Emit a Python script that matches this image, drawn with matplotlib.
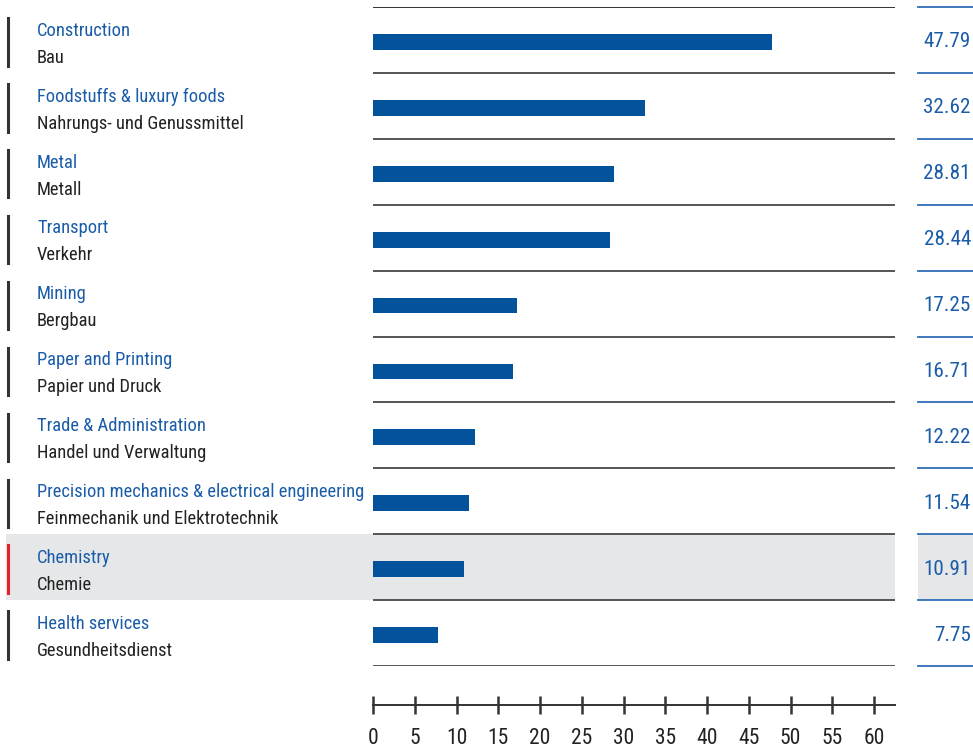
import matplotlib
matplotlib.use("Agg")
import matplotlib.pyplot as plt
from matplotlib import font_manager
from matplotlib.patches import Rectangle
from matplotlib.lines import Line2D
from matplotlib.transforms import blended_transform_factory

# Data
labels_en = [
    "Construction", "Foodstuffs & luxury foods", "Metal", "Transport", "Mining",
    "Paper and Printing", "Trade & Administration",
    "Precision mechanics & electrical engineering", "Chemistry", "Health services",
]
labels_de = [
    "Bau", "Nahrungs- und Genussmittel", "Metall", "Verkehr", "Bergbau",
    "Papier und Druck", "Handel und Verwaltung",
    "Feinmechanik und Elektrotechnik", "Chemie", "Gesundheitsdienst",
]
values = [47.79, 32.62, 28.81, 28.44, 17.25, 16.71, 12.22, 11.54, 10.91, 7.75]
highlight = "Chemistry"
x_ticks = list(range(0, 61, 5))

# Pick a narrow sans face if one is installed
installed = {f.name for f in font_manager.fontManager.ttflist}
family = "DejaVu Sans"
for cand in ["Roboto Condensed", "Liberation Sans Narrow", "Open Sans Condensed",
             "DejaVu Sans Condensed", "Roboto"]:
    if cand in installed:
        family = cand
        break
plt.rcParams["font.family"] = [family, "DejaVu Sans"]

BAR = "#02539b"
BLUE = "#1a5ca8"
DARK = "#222222"
GRID = "#555555"
HL = "#e6e7e8"

W, H = 973, 748
fig = plt.figure(figsize=(W / 100, H / 100), dpi=100)

# bar area in pixels
x0, x1 = 373, 895
y_top, y_bot = 7, 666
ax = fig.add_axes([x0 / W, 1 - y_bot / H, (x1 - x0) / W, (y_bot - y_top) / H])
n = len(values)
ax.set_xlim(0, 60 * (x1 - x0) / 501.0)
ax.set_ylim(n, 0)

centers = [i + 0.53 for i in range(n)]
ax.barh(centers, values, height=0.24, color=BAR, zorder=3)

for i in range(n + 1):
    ax.axhline(i, color=GRID if i else "#333333", lw=1.4, zorder=2)

for s in ["top", "left", "right"]:
    ax.spines[s].set_visible(False)
ax.spines["bottom"].set_position(("outward", 28))
ax.spines["bottom"].set_bounds(0, ax.get_xlim()[1])
ax.spines["bottom"].set_color("#333333")
ax.spines["bottom"].set_linewidth(1.4)
ax.set_yticks([])
ax.set_xticks(x_ticks)
ax.tick_params(axis="x", direction="inout", length=13, width=1.8, color="#333333",
               labelsize=15.5, labelcolor=DARK, pad=10)

trans = blended_transform_factory(fig.transFigure, ax.transData)

for i, (en, de, v) in enumerate(zip(labels_en, labels_de, values)):
    is_hl = en == highlight
    if is_hl:
        ax.add_patch(Rectangle((6 / W, i), (x1 - 6) / W, 1, transform=trans,
                               facecolor=HL, edgecolor="none", zorder=0, clip_on=False))
        ax.add_patch(Rectangle((918 / W, i), (W - 918) / W, 1, transform=trans,
                               facecolor=HL, edgecolor="none", zorder=0, clip_on=False))
    ax.add_line(Line2D([8 / W, 8 / W], [i + 0.17, i + 0.89], transform=trans,
                       color="#e8202a" if is_hl else "#333333", lw=2.2, clip_on=False))
    ax.text(37 / W, i + 0.36, en, transform=trans, color=BLUE, fontsize=13.3,
            va="center", ha="left")
    ax.text(37 / W, i + 0.77, de, transform=trans, color=DARK, fontsize=13.3,
            va="center", ha="left")
    ax.text(971 / W, i + 0.53, f"{v:.2f}", transform=trans, color=BLUE, fontsize=15.2,
            va="center", ha="right")

for i in range(n + 1):
    ax.add_line(Line2D([918 / W, 1], [i, i], transform=trans, color="#2f6db5",
                       lw=1.3, clip_on=False))

fig.savefig("out.png", dpi=100)
